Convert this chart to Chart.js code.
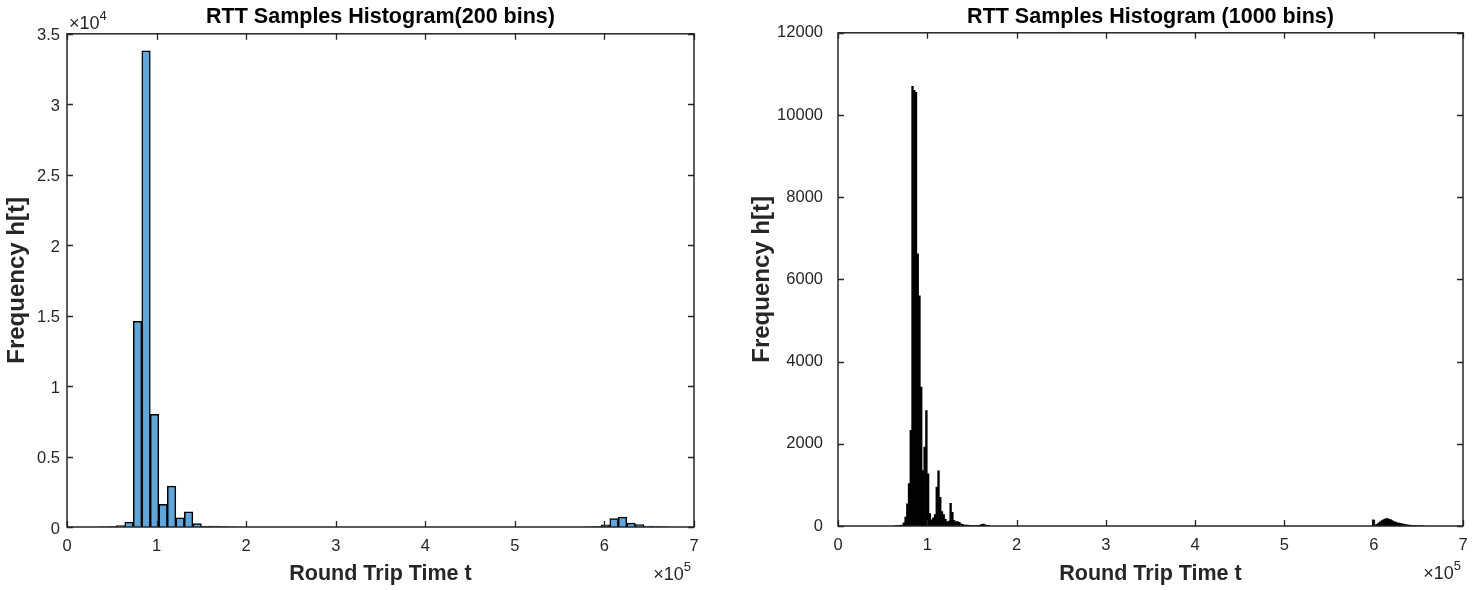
<!DOCTYPE html>
<html lang="en">
<head>
  <meta charset="UTF-8">
  <title>RTT Samples Histogram</title>
  <script src="https://cdn.jsdelivr.net/npm/chart.js"></script>
  <style>
    body { margin: 0; background: #fff; }
    #wrap { position: relative; width: 1482px; height: 590px; }
    canvas { position: absolute; top: 0; }
  </style>
</head>
<body>
<div id="wrap">
  <canvas id="hist200" width="741" height="590" style="left:0"></canvas>
  <canvas id="hist1000" width="741" height="590" style="left:741px"></canvas>
</div>

<script>
  // 200 bins: bin width and counts for the two clusters (left bin edge given)
  const binWidth200 = 9500;
  const mainStart200 = 36000;
  const mainCounts200 = [10, 30, 100, 350, 14600, 33800, 8000, 1600, 2900, 650, 1080, 240, 40, 70, 30, 10];
  const tailStart200 = 577500;
  const tailCounts200 = [20, 50, 150, 590, 700, 280, 170, 70, 35, 10];

  // 1000 bins
  const binWidth1000 = 1940;
  const mainStart1000 = 63100;
  const mainCounts1000 = [
    5, 8, 10, 15, 25, 80, 220, 540, 1030, 2330,
    10700, 10600, 10550, 6620, 5600, 3380, 1350, 1920, 2810, 1270,
    300, 150, 200, 280, 950, 1340, 700, 350, 280, 160,
    100, 120, 550, 330, 140, 100, 110, 90, 50, 40,
    25, 20, 20, 15, 10, 10, 8, 10, 15, 20,
    40, 45, 30, 15, 8
  ];
  const tailStart1000 = 598540;
  const tailCounts1000 = [
    150, 20, 40, 70, 100, 130, 155, 175, 180, 170,
    155, 130, 110, 95, 80, 70, 60, 50, 40, 32,
    25, 20, 15, 12, 10, 8, 6, 5, 4, 3
  ];

  const xTicks = [0, 1, 2, 3, 4, 5, 6, 7];          // x 1e5
  const yTicks200 = [0, 0.5, 1, 1.5, 2, 2.5, 3, 3.5]; // x 1e4
  const yTicks1000 = [0, 2000, 4000, 6000, 8000, 10000, 12000];

  function toBins(start, width, counts) {
    return counts.map((c, i) => ({ x: start + (i + 0.5) * width, y: c }));
  }

  const FONT = '"Liberation Sans", Arial, Helvetica, sans-serif';
  const INK = '#262626';

  // MATLAB style box with inward ticks on all four sides
  const matlabBox = {
    id: 'matlabBox',
    afterDatasetsDraw(chart) {
      const { ctx, chartArea: a, scales: { x, y } } = chart;
      const len = 6;
      ctx.save();
      ctx.strokeStyle = INK;
      ctx.lineWidth = 1.3;
      ctx.beginPath();
      x.ticks.forEach(t => {
        const px = Math.round(x.getPixelForValue(t.value)) + 0.5;
        ctx.moveTo(px, a.bottom); ctx.lineTo(px, a.bottom - len);
        ctx.moveTo(px, a.top); ctx.lineTo(px, a.top + len);
      });
      y.ticks.forEach(t => {
        const py = Math.round(y.getPixelForValue(t.value)) + 0.5;
        ctx.moveTo(a.left, py); ctx.lineTo(a.left + len, py);
        ctx.moveTo(a.right, py); ctx.lineTo(a.right - len, py);
      });
      ctx.stroke();
      ctx.lineWidth = 1.5;
      ctx.strokeRect(a.left, a.top, a.right - a.left, a.bottom - a.top);
      ctx.restore();
    }
  };

  // axis exponent labels like x10^4
  const expLabels = {
    id: 'expLabels',
    afterDraw(chart, args, opts) {
      const { ctx, chartArea: a } = chart;
      ctx.save();
      ctx.fillStyle = INK;
      ctx.textBaseline = 'alphabetic';
      (opts.items || []).forEach(it => {
        ctx.font = '18px ' + FONT;
        const wb = ctx.measureText('\u00d710').width;
        ctx.font = '13px ' + FONT;
        const we = ctx.measureText(it.exp).width;
        let x0, y0;
        if (it.axis === 'x') {
          x0 = a.right - wb - we + it.dx;
          y0 = a.bottom + it.dy;
        } else {
          x0 = a.left + it.dx;
          y0 = a.top + it.dy;
        }
        ctx.font = '18px ' + FONT;
        ctx.fillText('\u00d710', x0, y0);
        ctx.font = '13px ' + FONT;
        ctx.fillText(it.exp, x0 + wb, y0 - 9);
      });
      ctx.restore();
    }
  };

  function makeHist(id, cfg) {
    return new Chart(document.getElementById(id), {
      type: 'bar',
      data: {
        datasets: [{
          data: cfg.data,
          backgroundColor: cfg.fill,
          borderColor: '#000',
          borderWidth: cfg.border,
          barPercentage: 1,
          categoryPercentage: 1
        }]
      },
      options: {
        responsive: false,
        animation: false,
        layout: { padding: { left: 0, right: cfg.padRight, top: 0, bottom: 0 } },
        plugins: {
          legend: { display: false },
          tooltip: { enabled: false },
          title: {
            display: true,
            text: cfg.title,
            fullSize: false,
            color: '#000',
            font: { family: FONT, size: 21.5, weight: 'bold' },
            padding: { top: 4, bottom: cfg.titleGap }
          },
          expLabels: { items: cfg.exps }
        },
        scales: {
          x: {
            type: 'linear',
            min: 0, max: 700000,
            offset: false,
            afterBuildTicks: s => { s.ticks = xTicks.map(v => ({ value: v * 1e5 })); },
            ticks: {
              color: INK, padding: 10,
              font: { family: FONT, size: 16.5 },
              callback: v => String(v / 1e5)
            },
            grid: { display: false, drawTicks: false, offset: false },
            border: { display: false },
            title: {
              display: true, text: 'Round Trip Time t', color: INK,
              font: { family: FONT, size: 21.5, weight: 'bold' },
              padding: { top: 0, bottom: 3 }
            },
            afterFit: s => { s.height = cfg.xHeight; }
          },
          y: {
            min: 0, max: cfg.yMax,
            afterBuildTicks: s => { s.ticks = cfg.yTicks.map(v => ({ value: v * cfg.yScale })); },
            ticks: {
              color: INK, padding: cfg.yTickPad, labelOffset: cfg.yLabelShift,
              font: { family: FONT, size: 16.5 },
              callback: v => String(v / cfg.yScale)
            },
            grid: { display: false, drawTicks: false },
            border: { display: false },
            title: {
              display: true, text: 'Frequency h[t]', color: INK,
              font: { family: FONT, size: 24, weight: 'bold' },
              padding: { top: cfg.yTitlePad, bottom: 0 }
            },
            afterFit: s => { s.width = cfg.yWidth; }
          }
        }
      },
      plugins: [matlabBox, expLabels]
    });
  }

  makeHist('hist200', {
    title: 'RTT Samples Histogram(200 bins)',
    data: toBins(mainStart200, binWidth200, mainCounts200)
      .concat(toBins(tailStart200, binWidth200, tailCounts200)),
    fill: '#5fa6d9',
    border: 1.5,
    yMax: 35000,
    yTicks: yTicks200,
    yScale: 1e4,
    yWidth: 67,
    yTickPad: 7,
    yLabelShift: 2,
    yTitlePad: 3,
    xHeight: 63,
    padRight: 47,
    titleGap: 4,
    exps: [
      { axis: 'y', exp: '4', dx: 2, dy: -5 },
      { axis: 'x', exp: '5', dx: -3, dy: 53 }
    ]
  });

  makeHist('hist1000', {
    title: 'RTT Samples Histogram (1000 bins)',
    data: toBins(mainStart1000, binWidth1000, mainCounts1000)
      .concat(toBins(tailStart1000, binWidth1000, tailCounts1000)),
    fill: '#000',
    border: 0,
    yMax: 12000,
    yTicks: yTicks1000,
    yScale: 1,
    yWidth: 97,
    yTickPad: 15,
    yLabelShift: 0,
    yTitlePad: 7,
    xHeight: 64,
    padRight: 19,
    titleGap: 3,
    exps: [
      { axis: 'x', exp: '5', dx: -2, dy: 53 }
    ]
  });
</script>
</body>
</html>
